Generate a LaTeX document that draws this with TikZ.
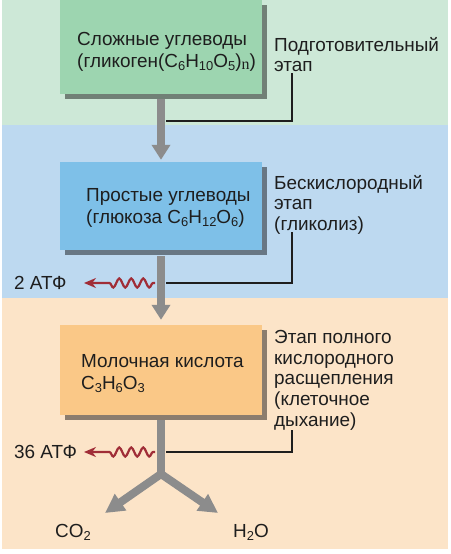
\documentclass[tikz,border=0pt]{standalone}
\usepackage{fontspec}
\setmainfont{Liberation Sans}
\newfontfamily\serifn{Liberation Serif}
\usetikzlibrary{arrows.meta,decorations.pathmorphing,shadows}
\definecolor{bggreen}{RGB}{205,232,215}
\definecolor{bgblue}{RGB}{189,217,240}
\definecolor{bgorange}{RGB}{252,228,200}
\definecolor{boxgreen}{RGB}{157,213,176}
\definecolor{boxblue}{RGB}{126,192,232}
\definecolor{boxorange}{RGB}{250,200,135}
\definecolor{trunkgray}{RGB}{140,140,140}
\definecolor{atpred}{RGB}{160,45,55}
\definecolor{txt}{RGB}{30,30,30}
\newcommand\chsub[1]{\raisebox{-0.3ex}{\fontsize{13}{13}\selectfont #1}}
\begin{document}
\begin{tikzpicture}[x=1bp,y=-1bp,
  every node/.style={font=\fontsize{19}{22}\selectfont, text=txt, inner sep=0pt},
  stagebox/.style={draw=none, minimum width=202bp},
  boxshadow/.style={drop shadow={shadow xshift=5bp, shadow yshift=-5bp, fill=#1, opacity=1}},
  boxtext/.style={anchor=north west, align=left},
  sidelabel/.style={anchor=north west, align=left, font=\fontsize{19}{20.8}\selectfont},
  trunkline/.style={draw=trunkgray, line width=8bp},
  trunk/.style={trunkline, -{Triangle[width=18bp,length=15bp]}},
  leader/.style={draw=txt, line width=1.1bp},
  wavy/.style={draw=atpred, line width=2.2bp, -{Stealth[width=10bp,length=12bp]},
    decorate, decoration={snake, amplitude=4.5bp, segment length=12bp, pre length=2bp, post length=25bp}}
]
\useasboundingbox (0,0) rectangle (451,554);
\fill[white] (0,0) rectangle (451,554);
\fill[bggreen] (2,0) rectangle (448,125);
\fill[bgblue] (2,125) rectangle (448,298);
\fill[bgorange] (2,298) rectangle (448,549);

% boxes
\node[stagebox, minimum height=94bp, fill=boxgreen, boxshadow=black!45!bggreen] (b1) at (161,47) {};
\node[stagebox, minimum height=88bp, fill=boxblue, boxshadow=black!45!bgblue] (b2) at (161,206) {};
\node[stagebox, minimum height=90bp, fill=boxorange, boxshadow=black!45!bgorange] (b3) at (161,370) {};

% box texts
\node[boxtext] (t1) at (77,32) {Сложные углеводы\\(гликоген(C\chsub{6}H\chsub{10}O\chsub{5})\raisebox{-0.2ex}{\fontsize{16}{16}\selectfont\serifn n})};
\node[boxtext] (t2) at (86,188) {Простые углеводы\\(глюкоза C\chsub{6}H\chsub{12}O\chsub{6})};
\node[boxtext] (t3) at (81,354) {Молочная кислота\\C\chsub{3}H\chsub{6}O\chsub{3}};

% side labels
\node[sidelabel] (l1) at (274,37) {Подготовительный\\этап};
\node[sidelabel] (l2) at (274,175) {Бескислородный\\этап\\(гликолиз)};
\node[sidelabel] (l3) at (274,330) {Этап полного\\кислородного\\расщепления\\(клеточное\\дыхание)};

% trunk arrows
\draw[trunk] ([yshift=-5bp]b1.south) -- ([yshift=2bp]b2.north);
\draw[trunk] ([yshift=-6bp]b2.south) -- ([yshift=5bp]b3.north);
\coordinate (fork) at (161,474);
\coordinate (tipL) at (105,513);
\coordinate (tipR) at (218,513);
\draw[trunkline] ([yshift=-5bp]b3.south) -- (fork);
\draw[trunkline, line join=miter, {Triangle[width=19bp,length=19bp]}-{Triangle[width=19bp,length=19bp]}] (tipL) -- (fork) -- (tipR);

% leaders
\coordinate (j1) at (166,121);
\coordinate (k1) at (292,73);
\coordinate (j2) at (166,283);
\coordinate (k2) at (292,232);
\coordinate (j3) at (166,452);
\coordinate (k3) at (292,430);
\draw[leader] (j1) -| (k1);
\draw[leader] (j2) -| (k2);
\draw[leader] (j3) -| (k3);

% ATP
\node[anchor=west] (atp1) at (14,283) {2 АТФ};
\node[anchor=west] (atp2) at (14,452) {36 АТФ};
\coordinate (w1) at (155,283);
\coordinate (w2) at (155,452);
\coordinate (a1) at (84,283);
\coordinate (a2) at (84,452);
\draw[wavy] (w1) -- (a1);
\draw[wavy] (w2) -- (a2);

% products
\node[anchor=base west] (co2) at (55,537) {CO\chsub{2}};
\node[anchor=base west] (h2o) at (233,537) {H\chsub{2}O};
\end{tikzpicture}
\end{document}
